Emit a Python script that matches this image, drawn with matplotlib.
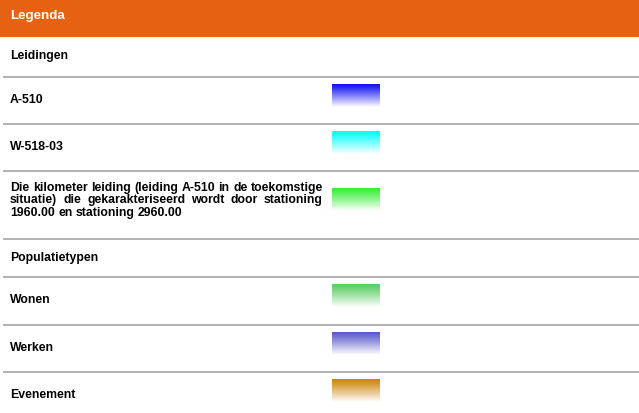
import numpy as np
import matplotlib
matplotlib.use("Agg")
import matplotlib.pyplot as plt
from matplotlib.colors import to_rgb

# ---- data ----
header_title = "Legenda"
row_kinds = ["section", "item", "item", "item", "section", "item", "item", "item"]
row_labels = [
    "Leidingen",
    "A-510",
    "W-518-03",
    "Die kilometer leiding (leiding A-510 in de toekomstige situatie) die gekarakteriseerd wordt door stationing 1960.00 en stationing 2960.00",
    "Populatietypen",
    "Wonen",
    "Werken",
    "Evenement",
]
swatch_colors = [None, "#1010f5", "#00ffff", "#33ee33", None, "#55cc60", "#5858cc", "#cc8408"]

# ---- layout (pixels) ----
W, H = 639, 414
header_h = 38
row_bounds = [38, 78, 125, 172, 240, 278, 326, 373, 414]
text_x = 10
text_right = 323
sw_x0, sw_x1 = 332, 380
sw_h = 23
font_size = 8.8
line_gap = 12.5

fig = plt.figure(figsize=(W / 100, H / 100), dpi=100)
ax = fig.add_axes([0, 0, 1, 1])
ax.set_xlim(0, W)
ax.set_ylim(H, 0)
ax.axis("off")
font = dict(family=["Liberation Sans", "DejaVu Sans"], fontweight="bold", fontsize=font_size)

# header
ax.add_patch(plt.Rectangle((0, 0), W, header_h, color="#e66212", lw=0))
hfont = dict(font)
hfont["fontsize"] = 9.6
ax.text(text_x, 16.5, header_title, color="white", va="center", ha="left", **hfont)

renderer = fig.canvas.get_renderer()


def word_width(w):
    t = ax.text(0, 0, w, **font)
    bb = t.get_window_extent(renderer)
    t.remove()
    return bb.width


def justified(text, x0, x1, y_top):
    words = text.split()
    widths = [word_width(w) for w in words]
    space = word_width("a b") - word_width("ab")
    lines, cur, cur_w = [], [], 0
    for w, wd in zip(words, widths):
        need = wd if not cur else cur_w + space + wd
        if cur and need > (x1 - x0):
            lines.append(cur)
            cur, cur_w = [(w, wd)], wd
        else:
            cur.append((w, wd))
            cur_w = need
    if cur:
        lines.append(cur)
    for li, line in enumerate(lines):
        y = y_top + li * line_gap
        last = li == len(lines) - 1
        if last or len(line) == 1:
            x = x0
            for w, wd in line:
                ax.text(x, y, w, va="center", ha="left", color="black", **font)
                x += wd + space
        else:
            total = sum(wd for _, wd in line)
            gap = (x1 - x0 - total) / (len(line) - 1)
            x = x0
            for w, wd in line:
                ax.text(x, y, w, va="center", ha="left", color="black", **font)
                x += wd + gap
    return len(lines)


for i, (kind, label, col) in enumerate(zip(row_kinds, row_labels, swatch_colors)):
    top, bot = row_bounds[i], row_bounds[i + 1]
    if i > 0:
        ax.plot([3, W], [top, top], color="#a6a6a6", lw=1.2, solid_capstyle="butt")
    if label.startswith("Die kilometer"):
        justified(label, text_x, text_right, top + 16)
    else:
        ax.text(text_x, top + 18 if kind == "section" else top + 22.5, label,
                va="center", ha="left", color="black", **font)
    if col is not None:
        c = np.array(to_rgb(col))
        n = 64
        tt = np.linspace(0, 1, n)[:, None]
        alpha = tt ** 1.1
        grad = c[None, :] * (1 - alpha) + np.ones(3)[None, :] * alpha
        grad = np.repeat(grad[:, None, :], 2, axis=1)
        y0 = top + 7.5 if not label.startswith("Die") else top + 17.5
        ax.imshow(grad, extent=(sw_x0, sw_x1, y0 + sw_h, y0), aspect="auto",
                  interpolation="bilinear", zorder=2)

ax.set_xlim(0, W)
ax.set_ylim(H, 0)
fig.savefig("out.png", dpi=100)
